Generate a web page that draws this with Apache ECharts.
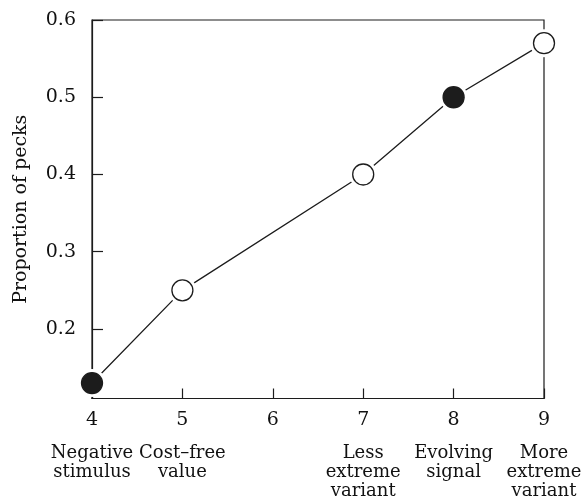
<!DOCTYPE html>
<html><head><meta charset="utf-8">
<script src="https://cdn.jsdelivr.net/npm/echarts@6/dist/echarts.min.js"></script>
<style>html,body{margin:0;padding:0;background:#fff}#c{width:586px;height:500px}</style>
</head><body><div id="c"></div>
<script>
const xValues = [4, 5, 7, 8, 9];
const yValues = [0.13, 0.25, 0.40, 0.50, 0.57];
const filled = [true, false, false, true, false];
const xTicks = [4, 5, 6, 7, 8, 9];
const xCategoryText = {4: 'Negative\nstimulus', 5: 'Cost–free\nvalue', 6: '', 7: 'Less\nextreme\nvariant', 8: 'Evolving\nsignal', 9: 'More\nextreme\nvariant'};
const yTicks = [0.2, 0.3, 0.4, 0.5, 0.6];
const yTitle = 'Proportion of pecks';

const FONT = '"DejaVu Serif", "Liberation Serif", serif';
const FS = 19;
const FSC = 18;
const INK = '#1c1c1c';
const pts = xValues.map((x, i) => [x, yValues[i]]);

const chart = echarts.init(document.getElementById('c'), null, {renderer: 'canvas'});
chart.setOption({
  animation: false,
  backgroundColor: '#fff',
  grid: {left: 92, right: 42, top: 20, bottom: 101, show: true, borderColor: INK, borderWidth: 1.2, backgroundColor: 'transparent'},
  xAxis: {
    type: 'value', min: 4, max: 9, interval: 1,
    axisLine: {show: true, lineStyle: {color: INK, width: 1.2}},
    axisTick: {show: true, inside: true, length: 10, lineStyle: {color: INK, width: 1.2}},
    splitLine: {show: false},
    axisLabel: {
      margin: 12, color: '#111', fontFamily: FONT, fontSize: FS,
      formatter: v => {
        const t = xCategoryText[v] || '';
        let s = '{n|' + v + '}';
        if (t) s += '\n' + t.split('\n').map(l => '{c|' + l + '}').join('\n');
        return s;
      },
      rich: {
        n: {fontFamily: FONT, fontSize: FS, color: '#111', lineHeight: 33, verticalAlign: 'top'},
        c: {fontFamily: FONT, fontSize: FSC, color: '#111', lineHeight: 19}
      }
    }
  },
  yAxis: {
    type: 'value', min: 0.11, max: 0.6,
    name: yTitle, nameLocation: 'middle', nameGap: 61, nameRotate: 90,
    nameTextStyle: {fontFamily: FONT, fontSize: FS, color: '#111'},
    axisLine: {show: true, lineStyle: {color: INK, width: 1.2}},
    axisTick: {show: true, inside: true, length: 11, customValues: yTicks, lineStyle: {color: INK, width: 1.2}},
    axisLabel: {customValues: yTicks, margin: 16, color: '#111', fontFamily: FONT, fontSize: FS, formatter: v => v.toFixed(1)},
    splitLine: {show: false}
  },
  series: [
    {type: 'line', data: pts, symbol: 'none', lineStyle: {color: INK, width: 1.3}, z: 2},
    {type: 'scatter', data: pts, symbol: 'circle', symbolSize: 28, itemStyle: {color: '#fff', opacity: 1}, z: 3, silent: true},
    {type: 'scatter', z: 4,
      data: pts.map((p, i) => ({value: p, itemStyle: {color: filled[i] ? INK : '#fff', borderColor: INK, borderWidth: 1.3, opacity: 1}})),
      symbol: 'circle', symbolSize: 21}
  ]
});
</script></body></html>
